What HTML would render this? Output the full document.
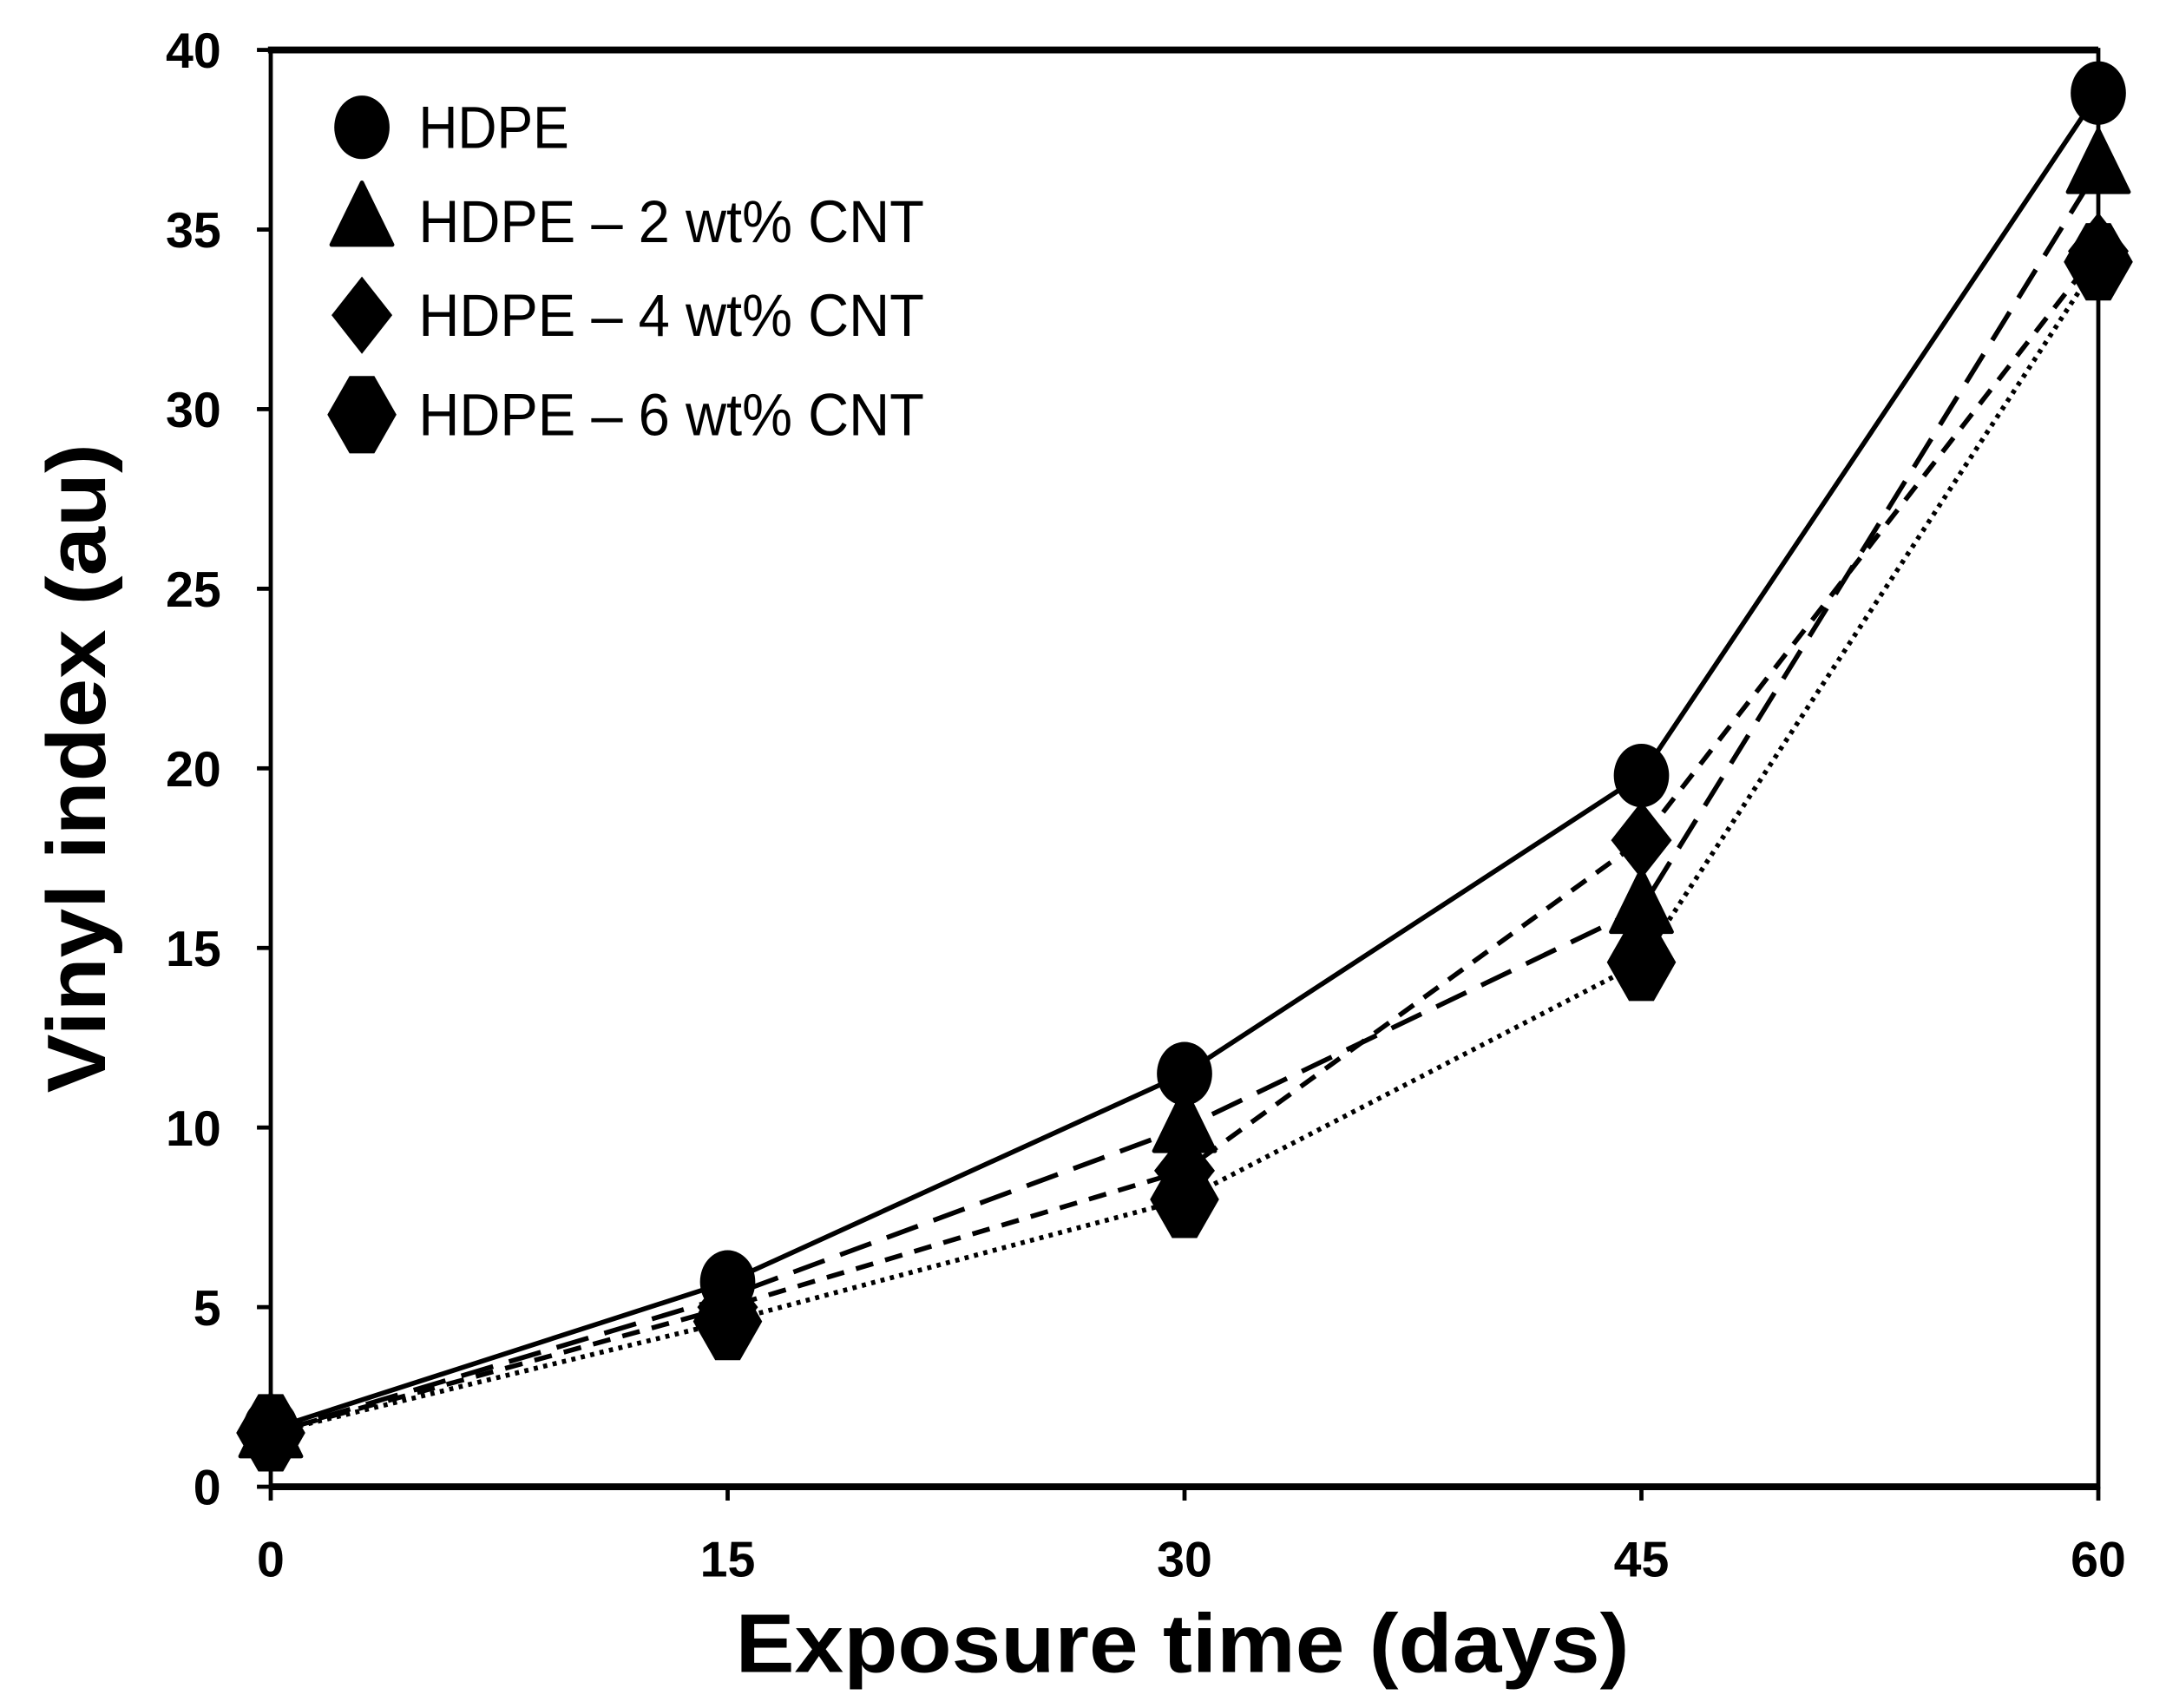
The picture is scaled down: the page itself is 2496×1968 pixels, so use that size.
<!DOCTYPE html>
<html><head><meta charset="utf-8"><style>
html,body{margin:0;padding:0;background:#fff;}
svg{display:block;}
text{font-family:"Liberation Sans",Arial,sans-serif;fill:#000;}
</style></head><body>
<svg id="chart" width="2496" height="1968" viewBox="0 0 1568 1236" xmlns="http://www.w3.org/2000/svg">
<g id="frame"></g>
<g id="series"></g>
<g id="legend"></g>
<text transform="translate(76,556) rotate(-90)" text-anchor="middle" font-size="60" font-weight="bold" textLength="470" lengthAdjust="spacingAndGlyphs">Vinyl index (au)</text>
<text x="856" y="1210" text-anchor="middle" font-size="60" font-weight="bold" textLength="647" lengthAdjust="spacingAndGlyphs">Exposure time (days)</text>
</svg>
<script>
const days = [0, 15, 30, 45, 60];
const xTicks = [0, 15, 30, 45, 60];
const yTicks = [0, 5, 10, 15, 20, 25, 30, 35, 40];
const seriesNames = ["HDPE", "HDPE – 2 wt% CNT", "HDPE – 4 wt% CNT", "HDPE – 6 wt% CNT"];
const hdpe = [1.6, 5.7, 11.5, 19.8, 38.8];
const cnt2 = [1.5, 5.3, 10.0, 16.1, 36.7];
const cnt4 = [1.5, 5.0, 8.8, 18.0, 34.4];
const cnt6 = [1.5, 4.6, 8.0, 14.6, 34.1];

const NS = "http://www.w3.org/2000/svg";
const L = 196, R = 1519, T = 36, B = 1076;
function xs(v){ return L + (v - 0) / 60 * (R - L); }
function ys(v){ return B - (v - 0) / 40 * (B - T); }
function mk(tag, attrs, parent){
  const e = document.createElementNS(NS, tag);
  for (const k in attrs) e.setAttribute(k, attrs[k]);
  parent.appendChild(e);
  return e;
}
const frame = document.getElementById('frame');
let a = mk('rect', {x:L, y:T, width:R-L, height:B-T, fill:'none', stroke:'#000', 'stroke-width':3}, frame);


a = mk('line', {x1:L, y1:B, x2:R, y2:B, stroke:'#000', 'stroke-width':5}, frame);


a = mk('line', {x1:L-2, y1:T, x2:R, y2:T, stroke:'#000', 'stroke-width':5}, frame);


yTicks.forEach(v => {
  const t = mk('line', {x1:L-10, y1:ys(v), x2:L, y2:ys(v), stroke:'#000', 'stroke-width':3}, frame);
  
  
  const lb = mk('text', {x:L-36, y:ys(v)+13, 'text-anchor':'end', 'font-size':36, 'font-weight':'bold'}, frame);
  lb.textContent = v;
  
  
});
xTicks.forEach(v => {
  const t = mk('line', {x1:xs(v), y1:B, x2:xs(v), y2:B+10, stroke:'#000', 'stroke-width':3}, frame);
  
  
  const lb = mk('text', {x:xs(v), y:B+65, 'text-anchor':'middle', 'font-size':36, 'font-weight':'bold'}, frame);
  lb.textContent = v;
  
  
});

function marker(shape, cx, cy, parent){
  let e;
  if (shape === 'circle') e = mk('ellipse', {cx:cx, cy:cy, rx:20, ry:23, fill:'#000'}, parent);
  else if (shape === 'triangle') e = mk('polygon', {points:`${cx},${cy-28} ${cx+22},${cy+17} ${cx-22},${cy+17}`, fill:'#000', stroke:'#000', 'stroke-width':3, 'stroke-linejoin':'round'}, parent);
  else if (shape === 'diamond') e = mk('polygon', {points:`${cx},${cy-28} ${cx+22},${cy} ${cx},${cy+28} ${cx-22},${cy}`, fill:'#000'}, parent);
  else e = mk('polygon', {points:`${cx-9},${cy-28} ${cx+9},${cy-28} ${cx+25},${cy} ${cx+9},${cy+28} ${cx-9},${cy+28} ${cx-25},${cy}`, fill:'#000'}, parent);
  return e;
}
const seriesData = [hdpe, cnt2, cnt4, cnt6];
const shapes = ['circle', 'triangle', 'diamond', 'hexagon'];
const dashes = ['none', '24,12', '13,9', '3,4'];
const sg = document.getElementById('series');
for (let s = 3; s >= 0; s--) {
  const pts = days.map((d, i) => xs(d) + ',' + ys(seriesData[s][i])).join(' ');
  const ln = mk('polyline', {points:pts, fill:'none', stroke:'#000', 'stroke-width':3.5, 'stroke-dasharray':dashes[s]}, sg);
  
  
}
for (let s = 3; s >= 0; s--) {
  days.forEach((d, i) => {
    const m = marker(shapes[s], xs(d), ys(seriesData[s][i]), sg);
    
    
  });
}
const lg = document.getElementById('legend');
const legY = [92, 160, 228, 300];
const legW = [109, 366, 366, 366];
seriesNames.forEach((n, s) => {
  const m = marker(shapes[s], 262, legY[s], lg);
  
  
  const t = mk('text', {x:303, y:legY[s]+15, 'font-size':43, textLength:legW[s], lengthAdjust:'spacingAndGlyphs'}, lg);
  t.textContent = n;
  
  
});
</script>
</body></html>
